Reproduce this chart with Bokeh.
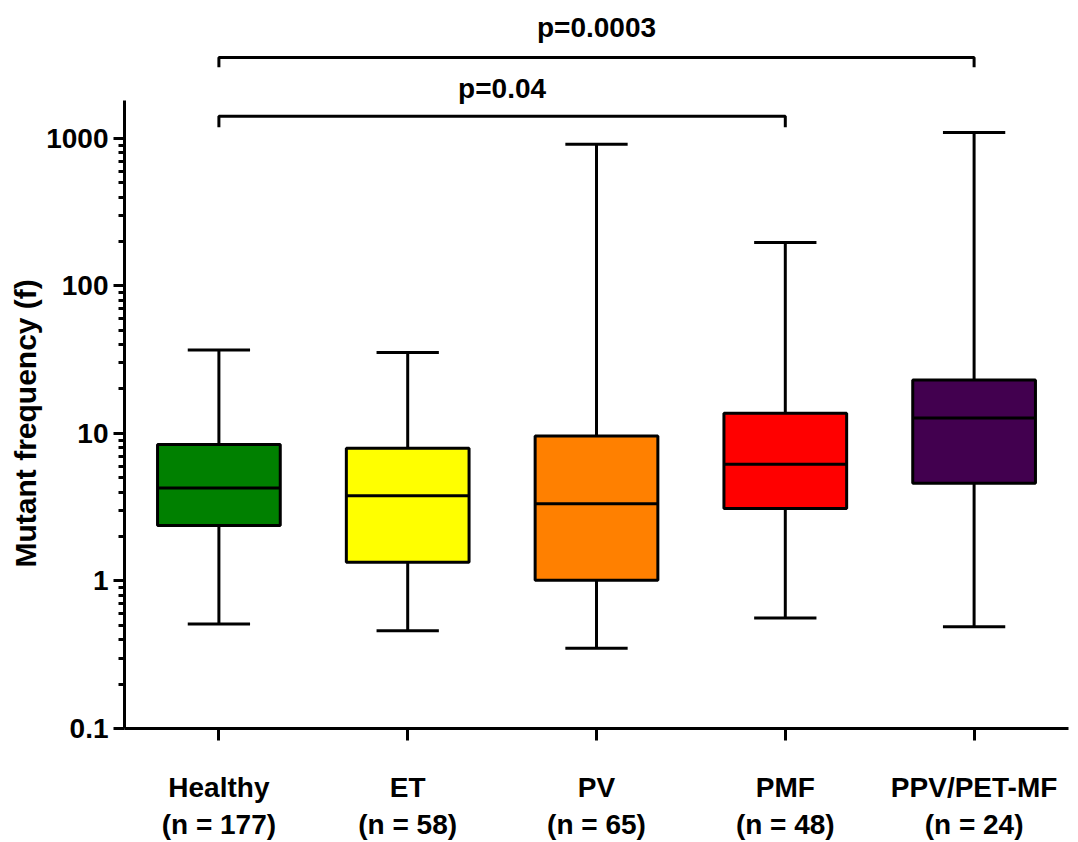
from bokeh.plotting import figure
from bokeh.models import (Range1d, FixedTicker, NumeralTickFormatter, Title,
                          ColumnDataSource)
from bokeh.core.properties import value
from bokeh.embed import file_html
from bokeh.resources import INLINE

# ---------------- data ----------------
categories = ["Healthy", "ET", "PV", "PMF", "PPV/PET-MF"]
n_counts = [177, 58, 65, 48, 24]
whisker_low = [0.51, 0.46, 0.35, 0.56, 0.49]
q1 = [2.38, 1.34, 1.01, 3.10, 4.60]
median = [4.26, 3.78, 3.33, 6.19, 12.7]
q3 = [8.4, 7.94, 9.62, 13.7, 23.0]
whisker_high = [36.7, 35.4, 910.0, 197.0, 1093.0]
colors = ["#008000", "#FFFF00", "#FF8000", "#FF0000", "#42004F"]

# comparisons (group index a, group index b, label)
comp_a = [1, 1]
comp_b = [5, 4]
comp_text = ["p=0.0003", "p=0.04"]

y_ticks = [0.1, 1, 10, 100, 1000]
y_title = "Mutant frequency (f)"

# ---------------- layout constants ----------------
FONT = "Liberation Sans"
FS = "28px"
BOX_W = 0.65
CAP_W = 0.33
LW = 3
bracket_top = [3530, 1410]
bracket_foot = [3030, 1190]
ptext_y = [5640, 2180]

xs = [i + 1 for i in range(len(categories))]

p = figure(width=1078, height=842, output_backend="svg", toolbar_location=None,
           y_axis_type="log", x_range=Range1d(0.5, 5.5),
           y_range=Range1d(0.1, 7943),
           min_border_left=124, min_border_right=10, min_border_top=5,
           min_border_bottom=113)
p.outline_line_color = None
p.xgrid.visible = False
p.ygrid.visible = False

src = ColumnDataSource(dict(x=xs, lo=whisker_low, q1=q1, med=median, q3=q3,
                            hi=whisker_high, color=colors,
                            xl=[x - BOX_W / 2 for x in xs],
                            xr=[x + BOX_W / 2 for x in xs],
                            cl=[x - CAP_W / 2 for x in xs],
                            cr=[x + CAP_W / 2 for x in xs]))

# whiskers
p.segment(x0="x", y0="q3", x1="x", y1="hi", source=src, line_color="black", line_width=LW)
p.segment(x0="x", y0="lo", x1="x", y1="q1", source=src, line_color="black", line_width=LW)
# caps
p.segment(x0="cl", y0="hi", x1="cr", y1="hi", source=src, line_color="black", line_width=LW)
p.segment(x0="cl", y0="lo", x1="cr", y1="lo", source=src, line_color="black", line_width=LW)
# boxes
p.vbar(x="x", bottom="q1", top="q3", width=BOX_W, source=src, fill_color="color",
       line_color="black", line_width=LW)
# medians
p.segment(x0="xl", y0="med", x1="xr", y1="med", source=src, line_color="black", line_width=LW)

# significance brackets
bx, by = [], []
for a, b, t, f in zip(comp_a, comp_b, bracket_top, bracket_foot):
    bx.append([a, a, b, b])
    by.append([f, t, t, f])
p.multi_line(xs=bx, ys=by, line_color="black", line_width=LW)
p.text(x=[(a + b) / 2 for a, b in zip(comp_a, comp_b)], y=ptext_y, text=comp_text,
       text_font=value(FONT), text_font_style="bold", text_font_size=FS,
       text_align="center", text_baseline="middle", text_color="black")

# x axis
xa = p.xaxis[0]
xa.ticker = FixedTicker(ticks=xs)
xa.major_label_overrides = {x: f"{c}\n(n = {n})" for x, c, n in zip(xs, categories, n_counts)}
xa.axis_line_width = LW
xa.major_tick_line_width = LW
xa.major_tick_out = 12
xa.major_tick_in = 0
xa.minor_tick_line_color = None
xa.major_label_standoff = 31
xa.major_label_text_font = FONT
xa.major_label_text_font_style = "bold"
xa.major_label_text_font_size = FS
xa.major_label_text_color = "black"

# y axis
minor = []
for d in y_ticks[:-1]:
    minor += [d * k for k in range(2, 10)]
ya = p.yaxis[0]
ya.ticker = FixedTicker(ticks=y_ticks, minor_ticks=minor)
ya.formatter = NumeralTickFormatter(format="0.[0]")
ya.major_label_overrides = {t: (f"{t:g}") for t in y_ticks}
ya.bounds = (0.1, 1800)
ya.axis_line_width = LW
ya.major_tick_line_width = LW
ya.minor_tick_line_width = LW
ya.major_tick_out = 11
ya.major_tick_in = 0
ya.minor_tick_out = 6
ya.minor_tick_in = 0
ya.major_label_standoff = 5
ya.major_label_text_font = FONT
ya.major_label_text_font_style = "bold"
ya.major_label_text_font_size = FS
ya.major_label_text_color = "black"

# y axis title as a left-side title
p.add_layout(Title(text=y_title, align="left", offset=161, text_font=FONT,
                   text_font_style="bold", text_font_size="30px", text_color="black",
                   standoff=4), "left")

open("out.html", "w").write(file_html(p, INLINE))
